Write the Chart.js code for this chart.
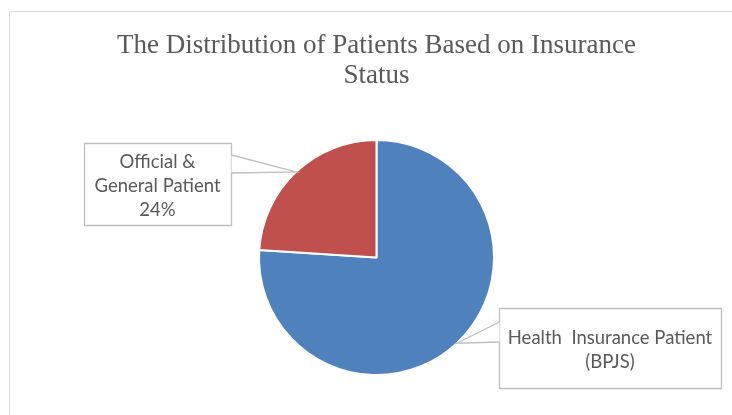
<!DOCTYPE html>
<html>
<head>
<meta charset="utf-8">
<script src="https://cdn.jsdelivr.net/npm/chart.js@4/dist/chart.umd.min.js"></script>
<style>
  body { margin: 0; background: #fff; }
  canvas { display: block; }
</style>
</head>
<body>
<canvas id="insuranceChart" width="732" height="415"></canvas>
<script>
const categories = ['Health Insurance Patient (BPJS)', 'Official & General Patient'];
const shares = [76, 24];
const sliceColors = ['#4F81BD', '#C0504D'];

// callout boxes: text lines, box rect, which side the pointer leaves from
const callouts = [
  { lines: ['Health  Insurance Patient', '(BPJS)'], box: [499, 308, 222, 80], side: 'left', base: [322, 342] },
  { lines: ['Official &', 'General Patient', '24%'], box: [84, 143, 147, 82], side: 'right', base: [155, 173] }
];

const calloutPlugin = {
  id: 'callouts',
  afterDraw(chart) {
    const c = chart.ctx;
    // outer chart border
    c.save();
    c.strokeStyle = '#d9d9d9';
    c.lineWidth = 1;
    c.beginPath();
    c.moveTo(9.5, 415);
    c.lineTo(9.5, 11.5);
    c.lineTo(732, 11.5);
    c.stroke();

    const arcs = chart.getDatasetMeta(0).data;
    callouts.forEach((co, i) => {
      const arc = arcs[i];
      const mid = (arc.startAngle + arc.endAngle) / 2;
      const tipX = arc.x + Math.cos(mid) * arc.outerRadius;
      const tipY = arc.y + Math.sin(mid) * arc.outerRadius;
      const [bx, by, bw, bh] = co.box;
      const edgeX = co.side === 'left' ? bx : bx + bw;

      c.beginPath();
      c.rect(bx + 0.5, by + 0.5, bw, bh);
      c.fillStyle = '#fff';
      c.fill();
      c.strokeStyle = '#bfbfbf';
      c.lineWidth = 1.3;
      c.stroke();

      // pointer wedge
      c.beginPath();
      c.moveTo(edgeX + 0.5, co.base[0]);
      c.lineTo(tipX, tipY);
      c.lineTo(edgeX + 0.5, co.base[1]);
      c.closePath();
      c.fillStyle = '#fff';
      c.fill();
      c.beginPath();
      c.moveTo(edgeX + 0.5, co.base[0]);
      c.lineTo(tipX, tipY);
      c.lineTo(edgeX + 0.5, co.base[1]);
      c.stroke();

      c.fillStyle = '#595959';
      c.font = '18.5px Lato, "Open Sans", sans-serif';
      c.textAlign = 'center';
      c.textBaseline = 'middle';
      const lh = 24;
      const cy = by + bh / 2 + 2 - (co.lines.length - 1) * lh / 2;
      co.lines.forEach((t, k) => c.fillText(t, bx + bw / 2, cy + k * lh));
    });
    c.restore();
  }
};

new Chart(document.getElementById('insuranceChart'), {
  type: 'pie',
  data: {
    labels: categories,
    datasets: [{
      data: shares,
      backgroundColor: sliceColors,
      borderColor: '#fff',
      borderWidth: 2
    }]
  },
  options: {
    responsive: false,
    animation: false,
    layout: { padding: { left: 21, right: 0, top: 0, bottom: 39 } },
    plugins: {
      legend: { display: false },
      tooltip: { enabled: false },
      title: {
        display: true,
        text: ['The Distribution of Patients Based on Insurance', 'Status'],
        color: '#595959',
        font: { family: '"Liberation Serif", serif', size: 27, weight: 'normal', lineHeight: 30 / 27 },
        padding: { top: 31, bottom: 48 }
      }
    }
  },
  plugins: [calloutPlugin]
});
</script>
</body>
</html>
